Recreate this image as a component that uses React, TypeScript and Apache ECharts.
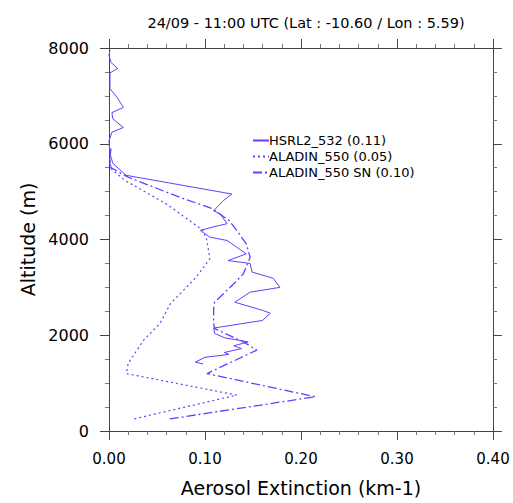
import React, { useEffect, useRef } from "react";
import * as echarts from "echarts";

const titleText = "24/09 - 11:00 UTC (Lat : -10.60 / Lon : 5.59)";
const xName = "Aerosol Extinction (km-1)";
const yName = "Altitude (m)";
const seriesNames = ["HSRL2_532 (0.11)", "ALADIN_550 (0.05)", "ALADIN_550 SN (0.10)"];

// [extinction, altitude]
const hsrl2: [number, number][] = [
  [0.001, 7950], [0.0, 7850], [0.002, 7700], [0.009, 7570], [0.001, 7480],
  [0.001, 7150], [0.008, 6980], [0.015, 6760], [0.003, 6650], [0.004, 6520],
  [0.015, 6340], [0.003, 6240], [0.0, 6060], [0.001, 5800], [0.004, 5590],
  [0.018, 5340], [0.128, 4950], [0.119, 4810], [0.109, 4600], [0.116, 4530],
  [0.123, 4330], [0.112, 4280], [0.095, 4190], [0.105, 4050], [0.123, 3980],
  [0.133, 3840], [0.143, 3700], [0.124, 3560], [0.147, 3500], [0.149, 3320],
  [0.171, 3190], [0.178, 3000], [0.147, 2900], [0.131, 2690], [0.16, 2520],
  [0.168, 2460], [0.16, 2310], [0.109, 2150], [0.11, 2040], [0.12, 1950],
  [0.145, 1860], [0.13, 1780], [0.138, 1720], [0.12, 1640], [0.125, 1600],
  [0.1, 1540], [0.09, 1440], [0.098, 1400],
];

const aladin550: [number, number][] = [
  [0.001, 5900], [0.001, 5600], [0.002, 5480], [0.017, 5230], [0.06, 4740],
  [0.098, 4190], [0.102, 3980], [0.105, 3600], [0.091, 3215], [0.064, 2660],
  [0.053, 2243], [0.036, 1896], [0.02, 1410], [0.018, 1200], [0.133, 750],
  [0.024, 243],
];

const aladin550sn: [number, number][] = [
  [0.002, 5900], [0.001, 5700], [0.002, 5500], [0.02, 5300], [0.074, 4880],
  [0.107, 4650], [0.125, 4400], [0.133, 4190], [0.143, 3910], [0.147, 3630],
  [0.14, 3285], [0.13, 3076], [0.11, 2690], [0.109, 2556], [0.109, 2243],
  [0.11, 2140], [0.14, 1860], [0.154, 1690], [0.102, 1200], [0.215, 715],
  [0.06, 243],
];

const lineColor = "#6a3cff";
const axisColor = "#444";
const font = "DejaVu Sans, Verdana, sans-serif";

export default function App() {
  const ref = useRef<HTMLDivElement>(null);
  useEffect(() => {
    if (!ref.current) return;
    const chart = echarts.init(ref.current, null, { renderer: "svg" });
    const axisCommon = {
      type: "value" as const,
      axisLine: { show: true, onZero: false, lineStyle: { color: axisColor, width: 1 } },
      axisTick: { show: true, inside: false, length: 9, lineStyle: { color: axisColor } },
      minorTick: { show: true, length: 4, lineStyle: { color: "#777" } },
      splitLine: { show: false },
      minorSplitLine: { show: false },
    };
    const xBase = { ...axisCommon, min: 0, max: 0.4, interval: 0.1, minorTick: { ...axisCommon.minorTick, splitNumber: 5 } };
    const yBase = { ...axisCommon, min: 0, max: 8000, interval: 2000, minorTick: { ...axisCommon.minorTick, splitNumber: 4 } };
    const mkSeries = (name: string, data: [number, number][], width: number, type: any) => ({
      name,
      type: "line",
      data,
      symbol: "none",
      showSymbol: false,
      legendIcon: "none",
      lineStyle: { color: lineColor, width, type },
      itemStyle: { color: lineColor },
    });
    chart.setOption({
      animation: false,
      backgroundColor: "#fff",
      textStyle: { fontFamily: font },
      title: {
        text: titleText,
        left: 301,
        textAlign: "center",
        top: 10,
        textStyle: { fontFamily: font, fontSize: 14.5, fontWeight: "normal", color: "#000" },
      },
      legend: {
        show: true,
        orient: "vertical",
        left: 247,
        top: 129,
        itemWidth: 16,
        itemHeight: 10,
        itemGap: 3,
        itemStyle: { opacity: 0 },
        textStyle: { fontFamily: font, fontSize: 13, color: "#000", padding: [0, 0, 0, -5] },
        data: seriesNames,
      },
      grid: { left: 109, right: 20, top: 48, bottom: 72, containLabel: false },
      xAxis: [
        {
          ...xBase,
          position: "bottom",
          name: xName,
          nameLocation: "middle",
          nameGap: 47,
          nameTextStyle: { fontFamily: font, fontSize: 19, color: "#000" },
          axisLabel: {
            show: true,
            margin: 20,
            fontFamily: font,
            fontSize: 15,
            color: "#000",
            formatter: (v: number) => v.toFixed(2),
          },
        },
        { ...xBase, position: "top", axisLabel: { show: false } },
      ],
      yAxis: [
        {
          ...yBase,
          position: "left",
          name: yName,
          nameLocation: "middle",
          nameGap: 72,
          nameTextStyle: { fontFamily: font, fontSize: 19, color: "#000" },
          axisLabel: {
            show: true,
            margin: 20,
            fontFamily: font,
            fontSize: 16,
            color: "#000",
            formatter: (v: number) => String(v),
          },
        },
        { ...yBase, position: "right", axisLabel: { show: false } },
      ],
      series: [
        mkSeries(seriesNames[0], hsrl2, 1, "solid"),
        mkSeries(seriesNames[1], aladin550, 1.2, [2, 3]),
        mkSeries(seriesNames[2], aladin550sn, 1.3, [9, 3, 2, 3]),
      ],
    });
    return () => chart.dispose();
  }, []);
  return (
    <div
      ref={ref}
      style={{ position: "fixed", left: 0, top: 0, width: 513, height: 503 }}
    />
  );
}
